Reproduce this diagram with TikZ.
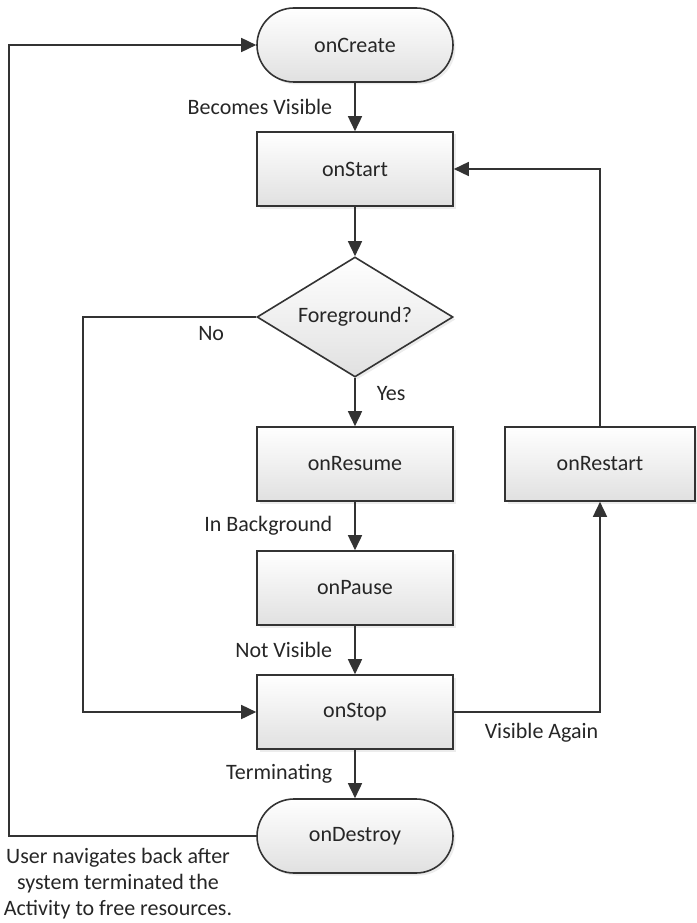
\documentclass[tikz,border=0pt]{standalone}
\usepackage{fontspec}
\setmainfont{Carlito}
\usetikzlibrary{shapes.geometric,arrows.meta,shadows}

\tikzset{
  flowbox/.style={draw=black!80, line width=1.6pt, top color=white, bottom color=black!12,
    minimum width=196pt, minimum height=74pt, inner sep=0pt,
    drop shadow={shadow xshift=2.5pt, shadow yshift=-2.5pt, opacity=0.15}},
  terminal/.style={flowbox, rounded corners=37pt},
  decision/.style={flowbox, diamond, aspect=1.63, minimum width=196pt, minimum height=120pt},
  flow/.style={draw=black!80, line width=1.6pt, -{Triangle[length=15pt,width=14pt]}},
  lbl/.style={inner sep=0pt, text=black!85},
}

\begin{document}
\begin{tikzpicture}[x=1pt, y=-1pt, font=\fontsize{22}{26}\selectfont, text=black!85]
  \useasboundingbox (0,0) rectangle (696,923);

  % main column
  \node[terminal] (create) at (355,45) {onCreate};
  \node[flowbox] (start) at (355,169) {onStart};
  \node[decision] (fg) at (355,317) {Foreground?};
  \node[flowbox] (resume) at (355,464) {onResume};
  \node[flowbox] (pause) at (355,588) {onPause};
  \node[flowbox] (stop) at (355,712) {onStop};
  \node[terminal] (destroy) at (355,836) {onDestroy};
  \node[flowbox, minimum width=190pt] (restart) at (600,464) {onRestart};

  \coordinate (noL) at (83,317);
  \coordinate (backL) at (9,836);
  \coordinate (backT) at (9,45);

  \draw[flow] (create) -- node[lbl, left=22pt] {Becomes Visible} (start);
  \draw[flow] (start) -- (fg);
  \draw[flow] (fg) -- node[lbl, pos=0.32, right=21pt] {Yes} (resume);
  \draw[flow] (resume) -- node[lbl, left=22pt] {In Background} (pause);
  \draw[flow] (pause) -- node[lbl, left=22pt] {Not Visible} (stop);
  \draw[flow] (stop) -- node[lbl, left=22pt] {Terminating} (destroy);

  % loops
  \draw[flow] (fg.west) -- node[lbl, pos=0.26, below=9pt] {No} (noL) |- (stop.west);
  \draw[flow] (stop.east) -| node[lbl, pos=0.3, below=10pt] {Visible Again} (restart.south);
  \draw[flow] (restart.north) |- (start.east);
  \draw[flow] (destroy.west) -- (backL) -- (backT) -- (create.west);

  \node[lbl, align=center] (note) at (118,884) {User navigates back after\\system terminated the\\Activity to free resources.};
\end{tikzpicture}
\end{document}
